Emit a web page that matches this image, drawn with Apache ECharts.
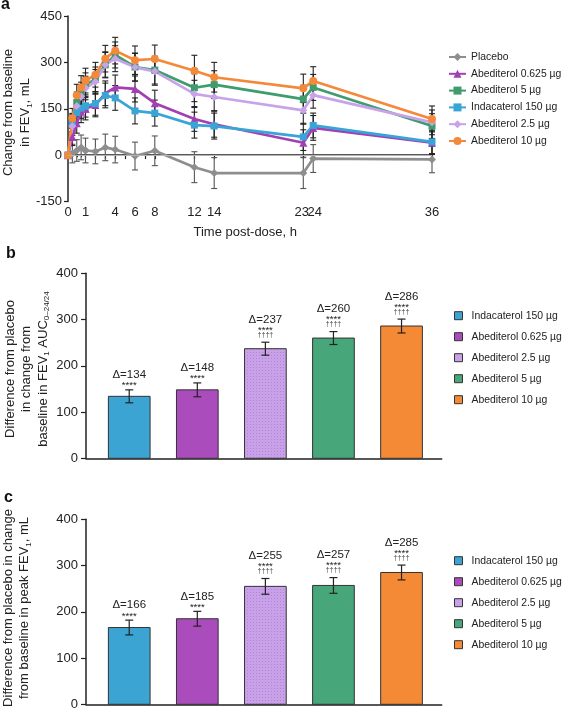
<!DOCTYPE html>
<html><head><meta charset="utf-8">
<script src="https://cdn.jsdelivr.net/npm/echarts@6/dist/echarts.min.js"></script>
<style>html,body{margin:0;padding:0;background:#fff}#c{width:562px;height:714px}</style>
</head><body><div id="c"></div>
<script>
// ---------- DATA ----------
const timeHours = [0, 0.25, 0.5, 0.75, 1, 2, 3, 4, 6, 8, 12, 14, 23, 24, 36];
const lineNames = ['Placebo', 'Abediterol 0.625 µg', 'Abediterol 5 µg', 'Indacaterol 150 µg', 'Abediterol 2.5 µg', 'Abediterol 10 µg'];
const placeboVals = [0, 5, 15, 25, 15, 12, 25, 18, -3, 14, -39, -58, -58, -11, -14];
const ab0625Vals  = [0, 59, 103, 140, 150, 162, 200, 219, 214, 168, 117, 100, 40, 88, 40];
const ab5Vals     = [0, 105, 170, 200, 228, 245, 292, 324, 285, 275, 218, 228, 181, 219, 94];
const indaVals    = [0, 103, 137, 152, 159, 167, 193, 185, 143, 136, 97, 94, 59, 96, 43];
const ab25Vals    = [0, 94, 159, 190, 217, 237, 292, 312, 284, 271, 198, 188, 145, 194, 106];
const ab10Vals    = [0, 119, 194, 219, 241, 260, 312, 338, 307, 311, 273, 252, 216, 240, 117];
const placeboErr  = [0, 30, 35, 40, 40, 40, 43, 43, 45, 48, 50, 50, 50, 45, 43];
const ab0625Err   = [0, 28, 32, 35, 36, 38, 40, 40, 42, 42, 40, 42, 42, 40, 38];
const ab5Err      = [0, 30, 34, 36, 38, 40, 42, 42, 45, 45, 45, 45, 45, 42, 40];
const indaErr     = [0, 28, 32, 34, 36, 38, 40, 40, 42, 42, 42, 42, 44, 40, 38];
const ab25Err     = [0, 30, 34, 36, 38, 40, 40, 42, 45, 45, 44, 44, 45, 42, 40];
const ab10Err     = [0, 32, 35, 38, 40, 40, 43, 43, 46, 45, 50, 48, 46, 46, 42];
const xLabelsA = [0, 1];
const xLabelsB = [4, 6, 8, 12, 14, 23, 24, 36];
const xTicksB  = [2, 3, 4, 5, 6, 7, 8, 12, 14, 23, 24, 36];

const barCategories = ['Indacaterol 150 µg', 'Abediterol 0.625 µg', 'Abediterol 2.5 µg', 'Abediterol 5 µg', 'Abediterol 10 µg'];
const aucValues  = [134, 148, 237, 260, 286];
const aucErrors  = [14, 15, 14, 14, 15];
const peakValues = [166, 185, 255, 257, 285];
const peakErrors = [16, 16, 17, 17, 16];
const starLabels   = ['****', '****', '****', '****', '****'];
const daggerLabels = ['', '', '††††', '††††', '††††'];

const titleA = '{n|Change from baseline}\n{n|in FEV}{s|1}{n|, mL}';
const titleB = '{n|Difference from placebo}\n{n|in change from}\n{n|baseline in FEV}{s|1}{n| AUC}{s|0–24/24}';
const titleC = '{n|Difference from placebo in change}\n{n|from baseline in peak FEV}{s|1}{n|, mL}';

// ---------- STYLE ----------
const FONT = '"Liberation Sans", Arial, Helvetica, sans-serif';
const INK = '#222';
const lineValues = [placeboVals, ab0625Vals, ab5Vals, indaVals, ab25Vals, ab10Vals];
const lineErrors = [placeboErr, ab0625Err, ab5Err, indaErr, ab25Err, ab10Err];
const lineColors = ['#8e8e8e', '#a33fb5', '#3f9c6c', '#38a5d6', '#c8a3ea', '#f5893a'];
const lineSymbols = ['diamond', 'triangle', 'rect', 'rect', 'diamond', 'circle'];
const lineSymbolSizes = [8, 8, 7, 7, 8, 8];
const barColors = ['#3ba4d2', '#ab4cbc', '#c9a1e8', '#47a67a', '#f58a36'];
const BAR_W = 41.7;

function dotPattern(base, dot) {
  const cv = document.createElement('canvas');
  cv.width = 3; cv.height = 3;
  const g = cv.getContext('2d');
  g.fillStyle = base; g.fillRect(0, 0, 3, 3);
  g.fillStyle = dot; g.fillRect(1, 1, 1, 1);
  return {image: cv, repeat: 'repeat'};
}

const chart = echarts.init(document.getElementById('c'), null, {renderer: 'canvas'});

const axisLineStyle = {color: INK, width: 1.5};
const tickStyle = {color: INK, width: 1.2};
const labelStyle = {fontSize: 13, color: INK, fontFamily: FONT};
const titleRich = {n: {fontSize: 13, lineHeight: 16.5, fontFamily: FONT, fill: INK},
                   s: {fontSize: 8, lineHeight: 9, verticalAlign: 'bottom', fontFamily: FONT, fill: INK}};
function yTitle(text, cx, cy) {
  return {type: 'text', x: cx, y: cy, rotation: Math.PI / 2, silent: true,
    style: {text, rich: titleRich, fontSize: 13, lineHeight: 16.5, fontFamily: FONT, fill: INK, align: 'center', verticalAlign: 'middle'}};
}

// ---------- SERIES ----------
const series = [];
lineNames.forEach((name, k) => {
  const pts = timeHours.map((t, i) => [t, lineValues[k][i]]);
  const common = {
    type: 'line', name, symbol: lineSymbols[k], symbolSize: lineSymbolSizes[k],
    itemStyle: {color: lineColors[k]}, lineStyle: {color: lineColors[k], width: 2.7},
    clip: false, z: 3, animation: false
  };
  const zeroLine = k === 0 ? {markLine: {silent: true, symbol: 'none', label: {show: false},
    lineStyle: {color: '#b4b4b4', width: 1, type: 'solid'}, data: [{yAxis: 0}]}} : {};
  series.push(Object.assign({}, common, zeroLine, {xAxisIndex: 0, yAxisIndex: 0, data: pts.filter((p, i) => timeHours[i] <= 1)}));
  series.push(Object.assign({}, common, zeroLine, {xAxisIndex: 1, yAxisIndex: 1, data: pts.filter((p, i) => timeHours[i] >= 1)}));
});

function errRows(pred) {
  const rows = [];
  lineNames.forEach((n, k) => timeHours.forEach((t, i) => {
    if (pred(t) && lineErrors[k][i] > 0) rows.push([t, lineValues[k][i], lineErrors[k][i], k]);
  }));
  return rows;
}
function renderErrA(params, api) {
  const t = api.value(0), v = api.value(1), e = api.value(2), k = api.value(3);
  const top = api.coord([t, v + e]), bot = api.coord([t, v - e]);
  const hw = 3, col = k === 0 ? '#555' : INK, st = {stroke: col, lineWidth: 1.1};
  return {type: 'group', children: [
    {type: 'line', shape: {x1: top[0], y1: top[1], x2: bot[0], y2: bot[1]}, style: st},
    {type: 'line', shape: {x1: top[0] - hw, y1: top[1], x2: top[0] + hw, y2: top[1]}, style: st},
    {type: 'line', shape: {x1: bot[0] - hw, y1: bot[1], x2: bot[0] + hw, y2: bot[1]}, style: st}
  ]};
}
series.push({type: 'custom', name: 'errA', xAxisIndex: 0, yAxisIndex: 0, z: 2, clip: false,
  renderItem: renderErrA, data: errRows(t => t < 1), animation: false, silent: true});
series.push({type: 'custom', name: 'errB', xAxisIndex: 1, yAxisIndex: 1, z: 2, clip: false,
  renderItem: renderErrA, data: errRows(t => t >= 1), animation: false, silent: true});

function addBarPanel(axisIdx, values, errors) {
  barCategories.forEach((c, i) => {
    const fill = i === 2 ? dotPattern(barColors[i], '#b184d6') : barColors[i];
    series.push({type: 'custom', name: 'bar:' + c, xAxisIndex: axisIdx, yAxisIndex: axisIdx,
      itemStyle: {color: barColors[i], borderColor: '#333', borderWidth: 1},
      data: [[i + 1, values[i]]], animation: false, z: 2, clip: false,
      renderItem: function (params, api) {
        const a = api.coord([api.value(0), api.value(1)]);
        const b = api.coord([api.value(0), 0]);
        return {type: 'rect', shape: {x: a[0] - BAR_W / 2, y: a[1], width: BAR_W, height: b[1] - a[1]},
          style: {fill: fill, stroke: '#333', lineWidth: 1}};
      }});
  });
  series.push({type: 'custom', name: 'ann' + axisIdx, xAxisIndex: axisIdx, yAxisIndex: axisIdx, z: 4, clip: false,
    silent: true, animation: false,
    data: barCategories.map((c, i) => [i + 1, values[i], errors[i], i]),
    renderItem: function (params, api) {
      const x = api.value(0), v = api.value(1), e = api.value(2), i = api.value(3);
      const top = api.coord([x, v + e]), bot = api.coord([x, v - e]);
      const hw = 4, st = {stroke: INK, lineWidth: 1.2};
      const cx = top[0], capY = top[1];
      const children = [
        {type: 'line', shape: {x1: cx, y1: top[1], x2: cx, y2: bot[1]}, style: st},
        {type: 'line', shape: {x1: cx - hw, y1: top[1], x2: cx + hw, y2: top[1]}, style: st},
        {type: 'line', shape: {x1: cx - hw, y1: bot[1], x2: cx + hw, y2: bot[1]}, style: st}
      ];
      let starsY, deltaY;
      if (daggerLabels[i]) {
        const dY = capY - 7.5;
        children.push({type: 'text', x: cx, y: dY, style: {text: daggerLabels[i], fontSize: 7, fontFamily: FONT, fill: '#444', align: 'center', verticalAlign: 'middle'}});
        starsY = dY - 6.5; deltaY = starsY - 8.5;
      } else {
        starsY = capY - 6; deltaY = starsY - 9;
      }
      children.push({type: 'text', x: cx, y: starsY + 1.8, style: {text: starLabels[i], fontSize: 9.5, fontFamily: FONT, fill: INK, align: 'center', verticalAlign: 'middle'}});
      children.push({type: 'text', x: cx, y: deltaY, style: {text: 'Δ=' + values[i], fontSize: 11.5, fontFamily: FONT, fill: INK, align: 'center', verticalAlign: 'middle'}});
      return {type: 'group', children};
    }});
}
addBarPanel(2, aucValues, aucErrors);
addBarPanel(3, peakValues, peakErrors);

// ---------- OPTION ----------
const barX = (gi) => ({gridIndex: gi, type: 'value', min: 0.365, max: 5.59,
  axisLine: {show: true, lineStyle: axisLineStyle}, axisTick: {show: false}, axisLabel: {show: false}, splitLine: {show: false}});
const barY = (gi) => ({gridIndex: gi, type: 'value', min: 0, max: 400, interval: 100,
  axisLine: {show: true, lineStyle: axisLineStyle}, axisTick: {show: true, length: 5, lineStyle: tickStyle},
  axisLabel: Object.assign({margin: 8}, labelStyle), splitLine: {show: false}});

const legendText = {fontSize: 10.4, color: INK, fontFamily: FONT, lineHeight: 12};
const barLegend = (top) => ({data: barCategories.map(c => 'bar:' + c), orient: 'vertical', left: 454, top, padding: 0,
  itemWidth: 8, itemHeight: 8, itemGap: 9, icon: 'rect', formatter: n => n.replace(/^bar:/, ''),
  itemStyle: {borderColor: '#333', borderWidth: 1},
  textStyle: Object.assign({padding: [0, 0, 0, 4]}, legendText), selectedMode: false});

const gridBase = {outerBoundsMode: 'none', containLabel: false};
const option = {
  backgroundColor: '#fff',
  animation: false,
  textStyle: {fontFamily: FONT},
  grid: [
    Object.assign({left: 68, top: 16, width: 17.5, height: 185.5}, gridBase),
    Object.assign({left: 85.5, top: 16, width: 346.5, height: 185.5}, gridBase),
    Object.assign({left: 86, top: 273.3, width: 355.7, height: 185}, gridBase),
    Object.assign({left: 86, top: 519.3, width: 355.7, height: 185}, gridBase)
  ],
  xAxis: [
    {gridIndex: 0, type: 'value', min: 0, max: 1, interval: 1,
      axisLine: {lineStyle: axisLineStyle}, axisTick: {length: 4, lineStyle: tickStyle},
      minorTick: {show: true, splitNumber: 4, length: 2, lineStyle: tickStyle},
      axisLabel: Object.assign({margin: 4, customValues: xLabelsA}, labelStyle), splitLine: {show: false}},
    {gridIndex: 1, type: 'value', min: 1, max: 36,
      axisLine: {lineStyle: axisLineStyle}, axisTick: {length: 4, lineStyle: tickStyle, customValues: xTicksB},
      axisLabel: Object.assign({margin: 4, customValues: xLabelsB,
        formatter: v => v === 23 ? '{l|23}' : v === 24 ? '{r|24}' : String(v),
        rich: {l: {fontSize: 13, color: INK, fontFamily: FONT, padding: [0, 3, 0, 0]},
               r: {fontSize: 13, color: INK, fontFamily: FONT, padding: [0, 0, 0, 3]}}}, labelStyle),
      splitLine: {show: false},
      name: 'Time post-dose, h', nameLocation: 'middle', nameGap: 24,
      nameTextStyle: {fontSize: 13, color: INK, fontFamily: FONT, padding: [0, 27, 0, 0]}},
    barX(2), barX(3)
  ],
  yAxis: [
    {gridIndex: 0, type: 'value', min: -150, max: 450, interval: 150,
      axisLine: {show: true, lineStyle: axisLineStyle}, axisTick: {show: true, length: 4, lineStyle: tickStyle},
      axisLabel: Object.assign({margin: 6}, labelStyle), splitLine: {show: false}},
    {gridIndex: 1, type: 'value', min: -150, max: 450, interval: 150, show: false, splitLine: {show: false}},
    barY(2), barY(3)
  ],
  legend: [
    {data: lineNames, orient: 'vertical', left: 448, top: 51, padding: 0, itemWidth: 17, itemHeight: 10, itemGap: 4.8,
      textStyle: legendText, selectedMode: false},
    barLegend(309.7),
    barLegend(554.7)
  ],
  graphic: [
    {type: 'text', left: 1, top: -3, style: {text: 'a', fontSize: 16, fontWeight: 'bold', fontFamily: FONT, fill: '#111'}},
    {type: 'text', left: 6, top: 246, style: {text: 'b', fontSize: 16, fontWeight: 'bold', fontFamily: FONT, fill: '#111'}},
    {type: 'text', left: 4, top: 490, style: {text: 'c', fontSize: 16, fontWeight: 'bold', fontFamily: FONT, fill: '#111'}},
    yTitle(titleA, 17, 112.5),
    yTitle(titleB, 26.5, 369),
    yTitle(titleC, 16.5, 608)
  ],
  series
};
chart.setOption(option);
</script>
</body></html>
